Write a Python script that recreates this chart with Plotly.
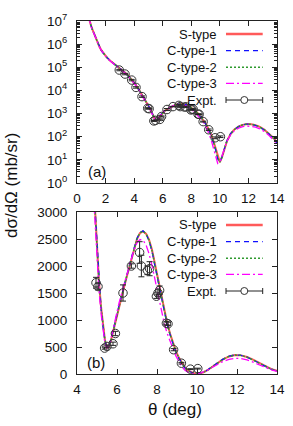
import plotly.graph_objects as go

# ---------------- data ----------------
theta = [0.8, 0.9, 1.0, 1.1, 1.25, 1.4, 1.55, 1.7, 1.9, 2.1,
         2.35, 2.6, 2.85, 3.1, 3.35, 3.6, 3.85, 4.1, 4.35, 4.6,
         4.75, 4.9, 5.0, 5.1, 5.2, 5.3, 5.4, 5.5, 5.6, 5.7,
         5.8, 5.95, 6.1, 6.28, 6.45, 6.65, 6.82, 7.0, 7.15, 7.3,
         7.45, 7.6, 7.75, 7.9, 8.05, 8.2, 8.35, 8.5, 8.65, 8.8,
         8.95, 9.1, 9.25, 9.4, 9.55, 9.7, 9.85, 10.0, 10.15, 10.3,
         10.5, 10.75, 11.0, 11.3, 11.6, 11.9, 12.2, 12.5, 12.8, 13.1,
         13.4, 13.7, 14.0]

s_type = [1.6e7, 8.5e6, 5.8e6, 4.0e6, 2.3e6, 1.35e6, 8.3e5, 5.5e5, 3.6e5, 2.6e5,
          1.85e5, 1.4e5, 1.1e5, 8.2e4, 6.0e4, 4.3e4, 2.9e4, 1.8e4, 1.05e4, 5.8e3,
          4.1e3, 3100, 2300, 1700, 1250, 900, 620, 490, 510, 620,
          780, 1000, 1250, 1500, 1750, 2020, 2270, 2500, 2610, 2640,
          2600, 2490, 2300, 2030, 1750, 1460, 1200, 960, 750, 570,
          420, 300, 200, 120, 65, 32, 13, 8, 13, 28,
          65, 130, 200, 270, 325, 350, 345, 315, 265, 205,
          145, 95, 60]

c_type_1 = [1.6e7, 8.4e6, 5.7e6, 3.95e6, 2.3e6, 1.33e6, 8.2e5, 5.4e5, 3.6e5, 2.6e5,
            1.84e5, 1.4e5, 1.09e5, 8.1e4, 5.9e4, 4.2e4, 2.85e4, 1.78e4, 1.03e4, 5.7e3,
            4.0e3, 3050, 2250, 1660, 1220, 880, 610, 495, 520, 635,
            800, 1020, 1270, 1520, 1770, 2040, 2290, 2510, 2620, 2650,
            2600, 2470, 2270, 2000, 1720, 1430, 1170, 930, 730, 550,
            400, 285, 190, 110, 60, 28, 11, 8, 14, 30,
            68, 135, 205, 275, 330, 352, 345, 312, 260, 200,
            140, 90, 55]

c_type_2 = [1.6e7, 8.5e6, 5.75e6, 4.0e6, 2.3e6, 1.34e6, 8.3e5, 5.5e5, 3.6e5, 2.6e5,
            1.85e5, 1.4e5, 1.1e5, 8.2e4, 5.95e4, 4.25e4, 2.88e4, 1.79e4, 1.04e4, 5.75e3,
            4.05e3, 3080, 2280, 1680, 1235, 890, 615, 492, 515, 628,
            790, 1010, 1260, 1510, 1760, 2030, 2280, 2505, 2615, 2645,
            2600, 2480, 2285, 2015, 1735, 1445, 1185, 945, 740, 560,
            410, 292, 195, 115, 62, 30, 12, 8, 13, 29,
            66, 132, 202, 272, 327, 351, 345, 313, 262, 202,
            142, 92, 57]

c_type_3 = [1.6e7, 8.3e6, 5.6e6, 3.9e6, 2.25e6, 1.3e6, 8.1e5, 5.4e5, 3.55e5, 2.55e5,
            1.82e5, 1.38e5, 1.08e5, 8.0e4, 5.8e4, 4.1e4, 2.75e4, 1.7e4, 9.8e3, 5.4e3,
            3.8e3, 2850, 2100, 1550, 1130, 800, 560, 480, 530, 660,
            830, 1060, 1310, 1560, 1800, 2050, 2260, 2430, 2490, 2480,
            2390, 2230, 2010, 1740, 1460, 1200, 960, 760, 600, 470,
            330, 215, 130, 70, 33, 14, 7, 8, 16, 32,
            65, 120, 178, 232, 272, 290, 286, 262, 220, 170,
            120, 78, 48]

exp_theta = [2.96, 3.36, 3.83, 4.13, 4.55, 4.95, 5.05, 5.38, 5.5, 5.8,
             5.92, 6.3, 6.72, 7.13, 7.22, 7.52, 7.63, 7.97, 8.05, 8.13,
             8.47, 8.55, 8.83, 9.22, 9.67, 10.04]
exp_sigma = [7.6e4, 5.1e4, 2.8e4, 1.35e4, 5.4e3, 1690, 1620, 480, 510, 560,
             750, 1500, 2000, 2250, 2000, 1920, 1950, 1440, 1500, 1550,
             940, 930, 450, 200, 90, 100]
exp_err = [5300, 3600, 2000, 950, 380, 100, 60, 20, 25, 30,
           40, 150, 40, 200, 200, 80, 130, 40, 60, 80,
           30, 30, 20, 15, 8, 8]

x_ticks_a = [0, 2, 4, 6, 8, 10, 12, 14]
x_ticks_b = [4, 6, 8, 10, 12, 14]
y_ticks_a = [1, 10, 100, 1e3, 1e4, 1e5, 1e6, 1e7]
y_ticktext_a = ["10<sup>0</sup>", "10<sup>1</sup>", "10<sup>2</sup>", "10<sup>3</sup>",
                "10<sup>4</sup>", "10<sup>5</sup>", "10<sup>6</sup>", "10<sup>7</sup>"]
y_ticks_b = [0, 500, 1000, 1500, 2000, 2500, 3000]

series = [
    ("S-type", s_type, "#ff5a5a", 2.0, "solid"),
    ("C-type-1", c_type_1, "#1010ff", 1.3, "5px,4px"),
    ("C-type-2", c_type_2, "#2e9a2e", 1.5, "2px,2px"),
    ("C-type-3", c_type_3, "#ff00ff", 1.3, "8px,3px,2px,3px"),
]

W, H = 293, 426
FONT = "Liberation Sans, Arial, Helvetica, sans-serif"


def px(x):
    return x / W


def py(y):
    return 1 - y / H


fig = go.Figure()

for xa, ya in (("x", "y"), ("x2", "y2")):
    for name, vals, col, lw, dash in series:
        fig.add_trace(go.Scatter(x=theta, y=vals, mode="lines", name=name,
                                 line=dict(color=col, width=lw, dash=dash),
                                 xaxis=xa, yaxis=ya, showlegend=False,
                                 cliponaxis=True))
    fig.add_trace(go.Scatter(x=exp_theta, y=exp_sigma, mode="markers", name="Expt.",
                             marker=dict(symbol="circle-open", size=8.5, color="#333333",
                                         line=dict(width=1, color="#333333")),
                             error_y=dict(type="data", array=exp_err, visible=True,
                                          color="#222222", thickness=1, width=3),
                             xaxis=xa, yaxis=ya, showlegend=False))

axis_common = dict(showline=True, linecolor="#222222", linewidth=1, mirror="allticks",
                   ticks="inside", ticklen=5, tickcolor="#222222", showgrid=False,
                   zeroline=False, automargin=False,
                   tickfont=dict(size=13.5, color="#111111", family=FONT))

xd = [px(77), px(277)]
fig.update_layout(
    width=W, height=H, autosize=False,
    margin=dict(l=0, r=0, t=0, b=0, pad=0, autoexpand=False),
    paper_bgcolor="white", plot_bgcolor="white",
    font=dict(family=FONT, color="#111111"),
    showlegend=False,
    xaxis=dict(domain=xd, range=[0, 14], tickvals=x_ticks_a, anchor="y",
               ticklabelstandoff=3, **axis_common),
    yaxis=dict(domain=[py(183), py(21)], type="log", range=[0, 7],
               tickvals=y_ticks_a, ticktext=y_ticktext_a, anchor="x", ticklabelstandoff=6,
               minor=dict(ticks="inside", ticklen=3, tickcolor="#222222",
                          tickvals=[m * 10 ** e for e in range(7) for m in range(2, 10)]),
               **axis_common),
    xaxis2=dict(domain=xd, range=[4, 14], tickvals=x_ticks_b, anchor="y2",
                ticklabelstandoff=3, **axis_common),
    yaxis2=dict(domain=[py(374), py(212)], range=[0, 3000], tickvals=y_ticks_b,
                anchor="x2", ticklabelstandoff=6, **axis_common),
)

annotations = [
    dict(text="dσ/dΩ (mb/sr)", x=px(11), y=py(186), textangle=-90,
         font=dict(size=17, family=FONT)),
    dict(text="θ (deg)", x=px(175), y=py(409), font=dict(size=17, family=FONT)),
    dict(text="(a)", x=px(97), y=py(171), font=dict(size=15, family=FONT)),
    dict(text="(b)", x=px(96), y=py(362), font=dict(size=15, family=FONT)),
]
shapes = []

legend_names = [s[0] for s in series] + ["Expt."]
for top in (21, 212):
    offs = [13, 29.6, 46.2, 62.4, 79]
    for i, name in enumerate(legend_names):
        yy = top + offs[i]
        annotations.append(dict(text=name, x=px(219), y=py(yy), xanchor="right",
                                font=dict(size=13, family=FONT)))
        if i < 4:
            _, _, col, lw, dash = series[i]
            shapes.append(dict(type="line", xref="paper", yref="paper",
                               x0=px(226), x1=px(262.7), y0=py(yy), y1=py(yy),
                               line=dict(color=col, width=lw + (0.6 if i == 0 else 0), dash=dash)))
        else:
            shapes.append(dict(type="line", xref="paper", yref="paper",
                               x0=px(226), x1=px(262.7), y0=py(yy), y1=py(yy),
                               line=dict(color="#222222", width=1)))
            for xe in (226, 262.7):
                shapes.append(dict(type="line", xref="paper", yref="paper",
                                   x0=px(xe), x1=px(xe), y0=py(yy - 3), y1=py(yy + 3),
                                   line=dict(color="#222222", width=1)))
            shapes.append(dict(type="circle", xref="paper", yref="paper",
                               x0=px(244.3 - 3.5), x1=px(244.3 + 3.5),
                               y0=py(yy - 3.5), y1=py(yy + 3.5),
                               fillcolor="white", line=dict(color="#333333", width=1)))

for a in annotations:
    a.setdefault("xref", "paper")
    a.setdefault("yref", "paper")
    a.setdefault("xanchor", "center")
    a.setdefault("yanchor", "middle")
    a.setdefault("showarrow", False)
fig.update_layout(annotations=annotations, shapes=shapes)

fig.write_html("out.html", config={"responsive": False, "displayModeBar": False},
               post_script="document.body.style.margin='0';"
                           "document.body.style.padding='0';"
                           "document.body.style.overflow='hidden';")
